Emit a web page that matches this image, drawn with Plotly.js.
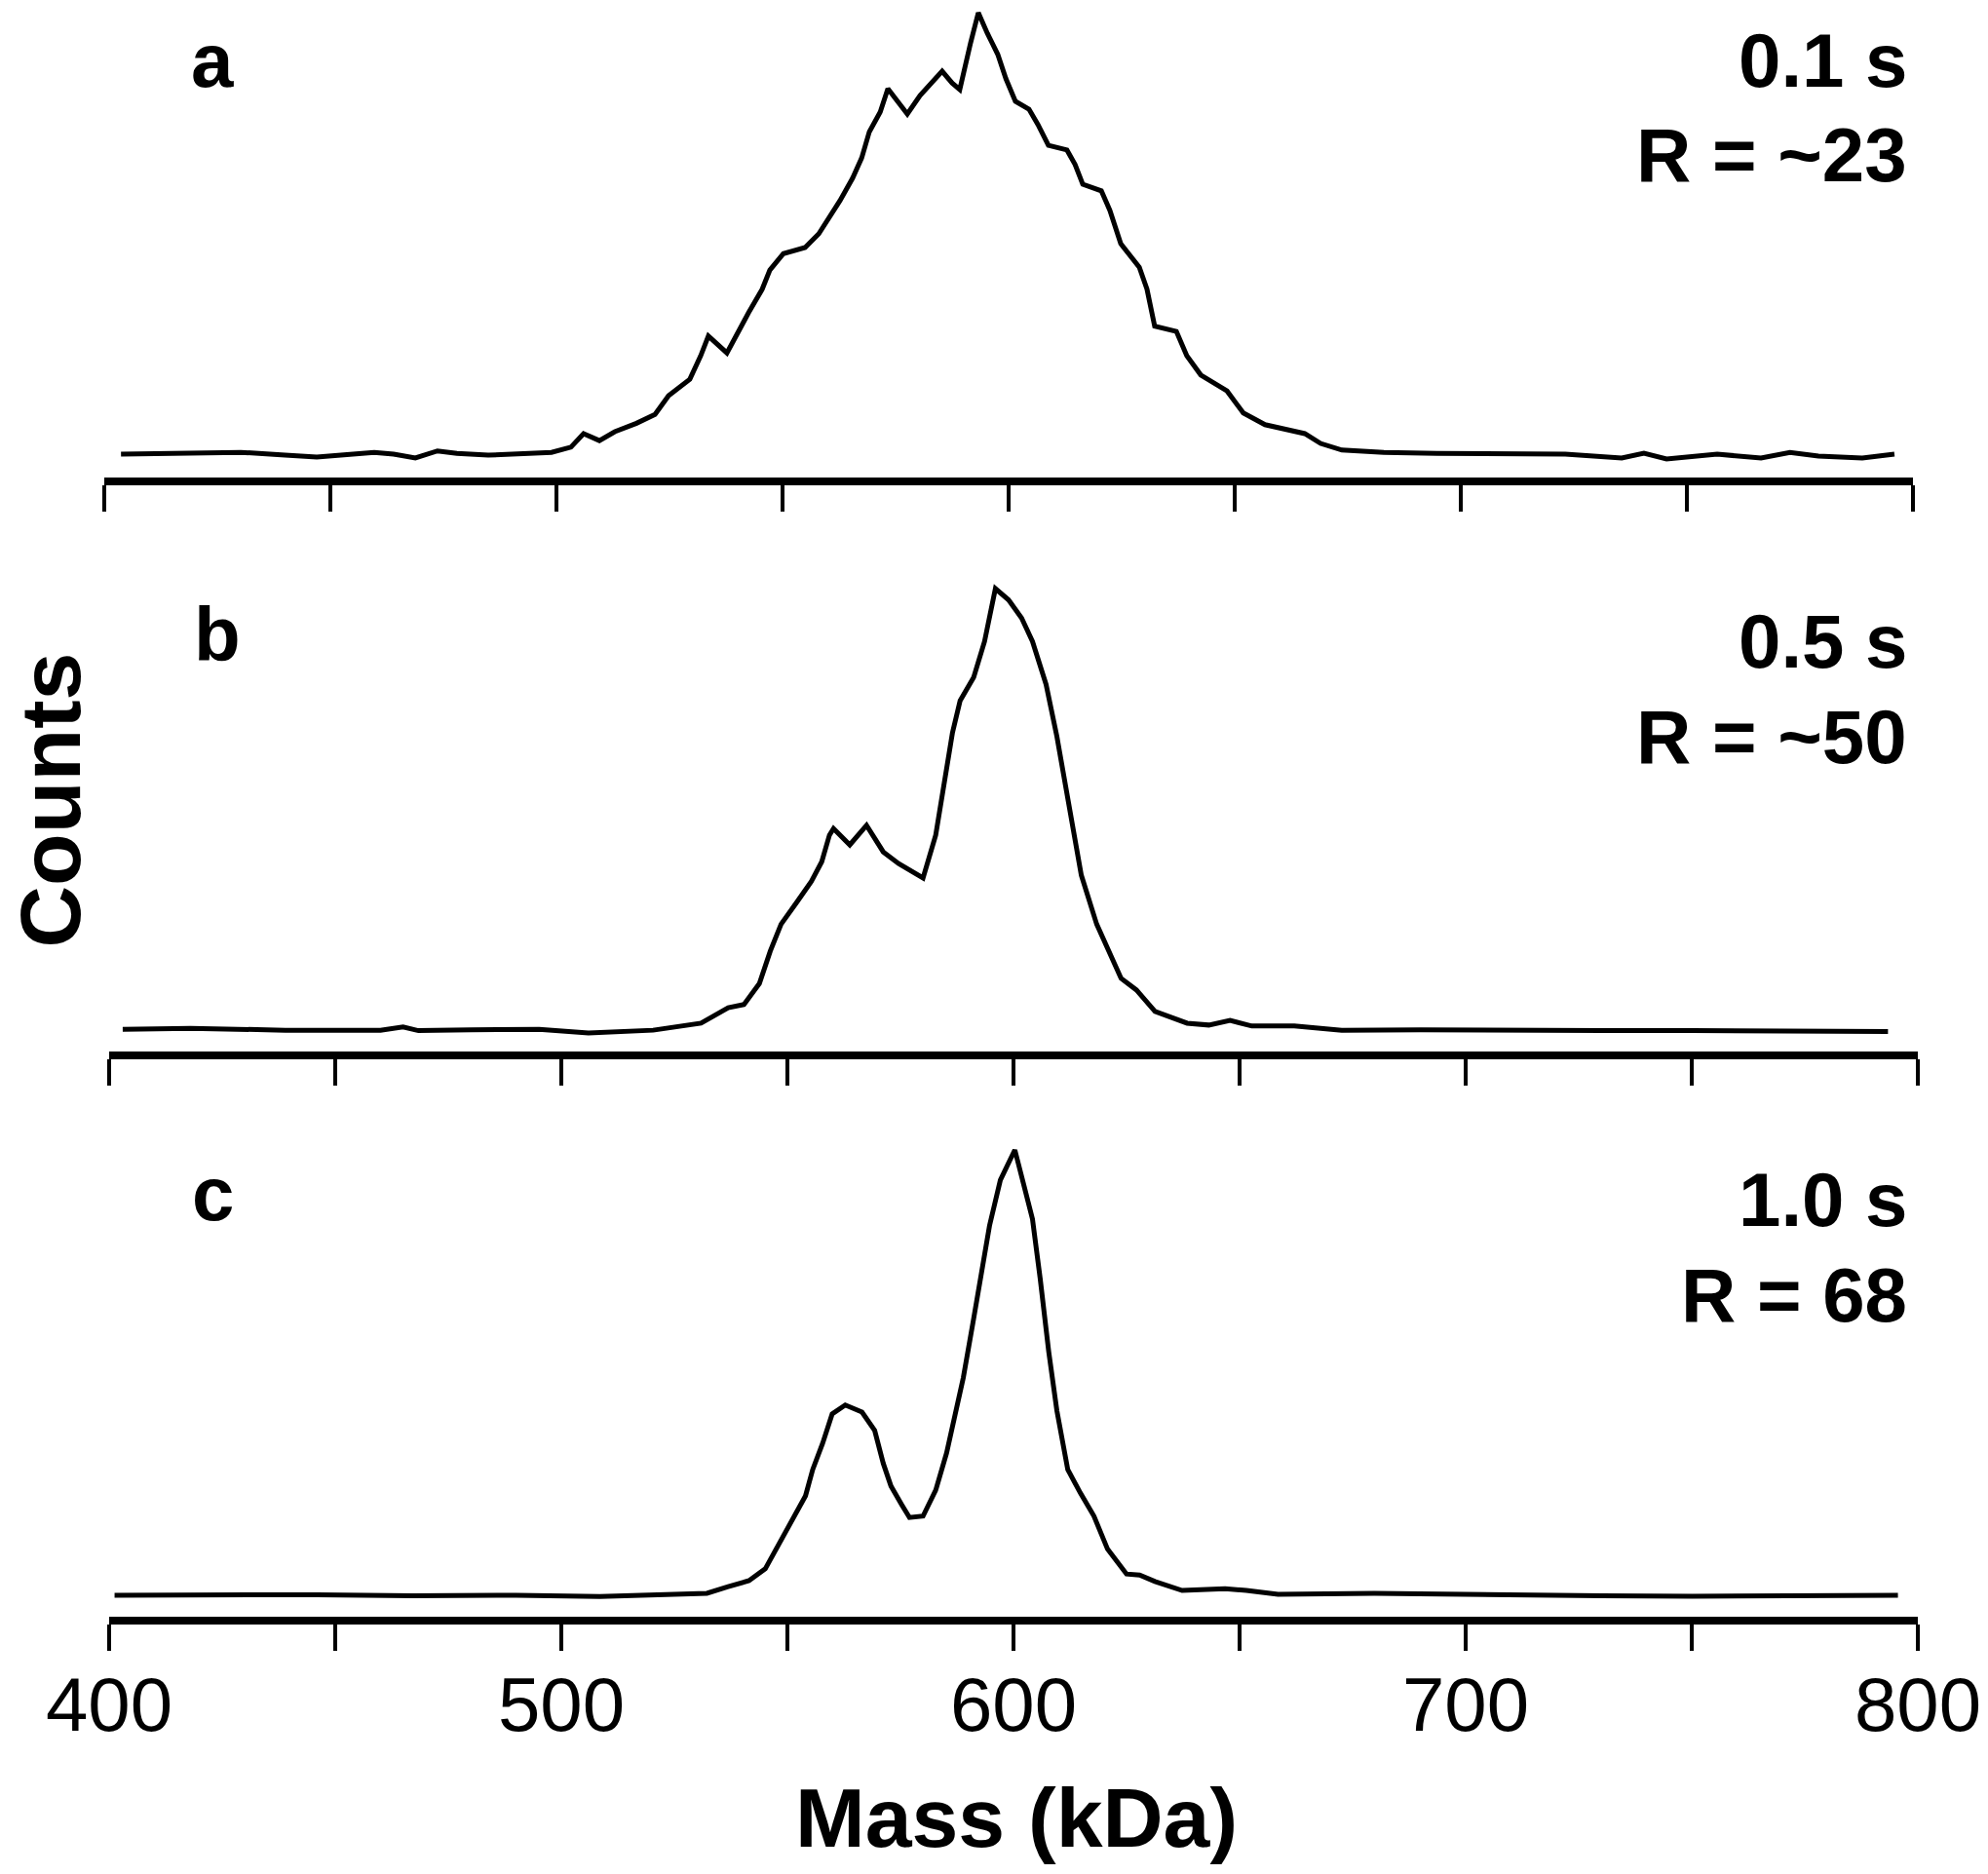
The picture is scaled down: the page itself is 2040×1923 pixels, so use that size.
<!DOCTYPE html>
<html><head><meta charset="utf-8">
<script src="https://cdn.plot.ly/plotly-3.0.1.min.js"></script>
<style>html,body{margin:0;padding:0;background:#fff;}#chart{width:2040px;height:1923px;}</style>
</head><body><div id="chart"></div>
<script>
// ---- Data (mass in kDa, counts in relative units, peak = 100) ----
const massA = [403.7,418,430.2,440,447.0,455,459.7,464,468.8,473.7,478,484.9,492,498.9,503.2,506.0,509.5,512.9,517.7,521.8,524.8,529.5,531.9,533.6,537.7,540.1,542.5,545.5,547.2,550.2,555.0,558.0,560.3,562.7,565.5,567.5,569.2,571.6,573.3,577.6,580.4,582.8,585.3,587.5,589.2,591.6,593.3,595.3,597.6,599.4,601.5,604.5,606.5,608.8,612.9,614.7,616.4,620.5,622.4,624.8,628.9,630.6,632.3,637.1,639.4,642.5,648.3,651.9,656.7,665.5,669.0,673.7,683.0,694.8,710,723.1,735.6,740.5,745.5,756.7,766.4,772.8,779.1,788.8,795.9];
const countsA = [5.8,6.0,6.2,5.6,5.2,5.8,6.2,5.8,5.0,6.5,6.0,5.6,5.8,6.2,7.3,10.2,8.7,10.6,12.4,14.3,18.3,21.8,26.8,31.0,27.4,31.8,36.0,41.0,45.1,48.6,49.9,52.8,56.3,59.9,64.7,69.0,74.6,78.8,83.8,78.4,82.3,85.0,87.5,85.0,83.6,93.6,100,95.6,91.1,85.9,81.1,79.4,76.1,71.7,70.7,67.6,63.4,62.0,57.8,50.7,45.7,41.0,33.1,32.0,26.8,22.7,19.3,14.6,12.1,10.2,8.1,6.7,6.2,6.0,6.0,5.8,5.0,6.0,4.8,5.8,5.0,6.2,5.4,5.0,5.8];

const massB = [403,418,439,460,465,468.4,480,495.1,506,520.3,530.9,536.9,540.4,543.8,546.2,548.6,552.2,555.3,557.6,559.3,560.2,563.8,567.5,571.2,574.6,580.0,582.8,584.8,586.5,588.2,591.2,593.6,596.0,598.9,601.8,604.2,607.2,609.6,612.0,615.0,618.4,621.5,623.8,627.2,631.3,638.4,643.2,647.9,652.7,662.1,672.6,690,707.8,730,750.1,775,793.4];
const countsB = [5.6,5.8,5.4,5.4,6.1,5.3,5.5,5.6,4.8,5.4,6.9,10.2,10.9,15.4,22.3,28.1,33.0,37.3,41.5,47.2,48.6,45.1,49.3,43.6,41.1,38.0,47.2,58.5,69.1,76.0,81.0,88.7,100,97.6,93.7,88.7,79.5,68.3,55.5,38.6,28.1,21.7,16.5,14.0,9.4,6.9,6.5,7.5,6.3,6.3,5.4,5.5,5.3,5.3,5.3,5.2,5.1];

const massC = [401.2,425,446.0,467.1,490,508.5,520.3,532.2,536.9,541.5,545.1,547.5,550.9,554.0,555.6,557.8,559.9,562.8,566.5,569.3,571.2,572.9,575.3,577.0,580.0,582.8,585.2,587.1,588.9,591.2,593.0,594.7,597.1,598.9,600.3,602.4,604.2,605.9,607.8,609.6,612.0,614.8,617.8,620.8,625.0,627.9,631.3,637.3,646.8,651.5,658.5,679.8,707.8,730,750.1,775,795.6];
const countsC = [5.4,5.5,5.5,5.3,5.4,5.1,5.4,5.8,7.2,8.5,11.0,15.2,20.9,26.5,32.1,37.7,43.9,45.8,44.3,40.4,33.4,28.6,24.6,21.9,22.2,27.7,35.6,43.3,51.6,64.2,74.0,83.9,93.6,97.1,100,92.1,85.3,72.7,57.1,44.6,32.1,27.1,22.2,15.2,9.9,9.7,8.3,6.4,6.8,6.4,5.6,5.8,5.4,5.3,5.2,5.3,5.4];

const panelLetters = ["a","b","c"];
const timeLabels = ["0.1 s","0.5 s","1.0 s"];
const resLabels = ["R = ~23","R = ~50","R = 68"];
const tickVals = [400,500,600,700,800];
const xTitle = "Mass (kDa)";
const yTitle = "Counts";

// ---- Geometry ----
const W = 2040, H = 1923, LW = 8;
const FONT = "Liberation Sans, Arial, Helvetica, sans-serif";

function ydom(axisY, peakY, r1) {
  const s = (axisY - peakY) / 100;
  const B = axisY - LW / 2;
  const r0 = (LW / 2) / s;
  let T = B - (r1 - r0) * s;
  if (T < 0) { T = 0; r1 = r0 + B / s; }
  return {domain: [1 - B / H, 1 - T / H], range: [r0, r1]};
}
function xax(anchor, x0, x1, labels) {
  return {
    domain: [x0 / W, x1 / W], range: [400, 800], anchor: anchor,
    showline: true, linewidth: LW, linecolor: '#000',
    ticks: 'outside', ticklen: 27, tickwidth: 4, tickcolor: '#000',
    tickmode: 'array', tickvals: tickVals, ticktext: tickVals.map(String),
    showticklabels: labels, ticklabelstandoff: -12,
    tickfont: {family: FONT, size: 78, color: '#000'},
    minor: {dtick: 50, tick0: 400, ticks: 'outside', ticklen: 27, tickwidth: 4, tickcolor: '#000', showgrid: false},
    showgrid: false, zeroline: false, fixedrange: true
  };
}
function yax(anchor, d) {
  return {domain: d.domain, range: d.range, anchor: anchor, visible: false, fixedrange: true};
}
const ya = ydom(494, 13, 102), yb = ydom(1083, 604, 102), yc = ydom(1663, 1180, 102);

const line = {color: '#000', width: 5};
const traces = [
  {x: massA, y: countsA, xaxis: 'x', yaxis: 'y', mode: 'lines', line: line, hoverinfo: 'skip'},
  {x: massB, y: countsB, xaxis: 'x2', yaxis: 'y2', mode: 'lines', line: line, hoverinfo: 'skip'},
  {x: massC, y: countsC, xaxis: 'x3', yaxis: 'y3', mode: 'lines', line: line, hoverinfo: 'skip'}
];

function ann(text, xpx, ypx, size, xanchor, bold, angle) {
  return {text: bold ? '<b>' + text + '</b>' : text, x: xpx / W, y: 1 - ypx / H, xref: 'paper', yref: 'paper',
    xanchor: xanchor, yanchor: 'middle', showarrow: false, textangle: angle || 0,
    font: {family: FONT, size: size, color: '#000'}, borderpad: 0};
}
const F = 78;
const letterX = [218, 223, 218], letterBase = [89, 678, 1252];
const line1Base = [89, 685, 1258], line2Base = [186, 783, 1356];
const annotations = [];
for (let i = 0; i < 3; i++) {
  annotations.push(ann(panelLetters[i], letterX[i], letterBase[i] - 0.3465 * F, F, 'center', true));
  annotations.push(ann(timeLabels[i], 1958, line1Base[i] - 0.3465 * F, F, 'right', true));
  annotations.push(ann(resLabels[i], 1958, line2Base[i] - 0.3465 * F, F, 'right', true));
}
annotations.push(ann(xTitle, 1043, 1895 - 0.3465 * 86, 86, 'center', true));
annotations.push(ann(yTitle, 81 - 0.3465 * 88, 821, 88, 'center', true, -90));

const layout = {
  width: W, height: H, margin: {l: 0, r: 0, t: 0, b: 0, pad: 0},
  paper_bgcolor: '#fff', plot_bgcolor: '#fff', showlegend: false,
  xaxis: xax('y', 107, 1963, false),
  xaxis2: xax('y2', 112, 1968, false),
  xaxis3: xax('y3', 112, 1968, true),
  yaxis: yax('x', ya), yaxis2: yax('x2', yb), yaxis3: yax('x3', yc),
  annotations: annotations
};
Plotly.newPlot('chart', traces, layout, {staticPlot: true, displayModeBar: false});
</script></body></html>
